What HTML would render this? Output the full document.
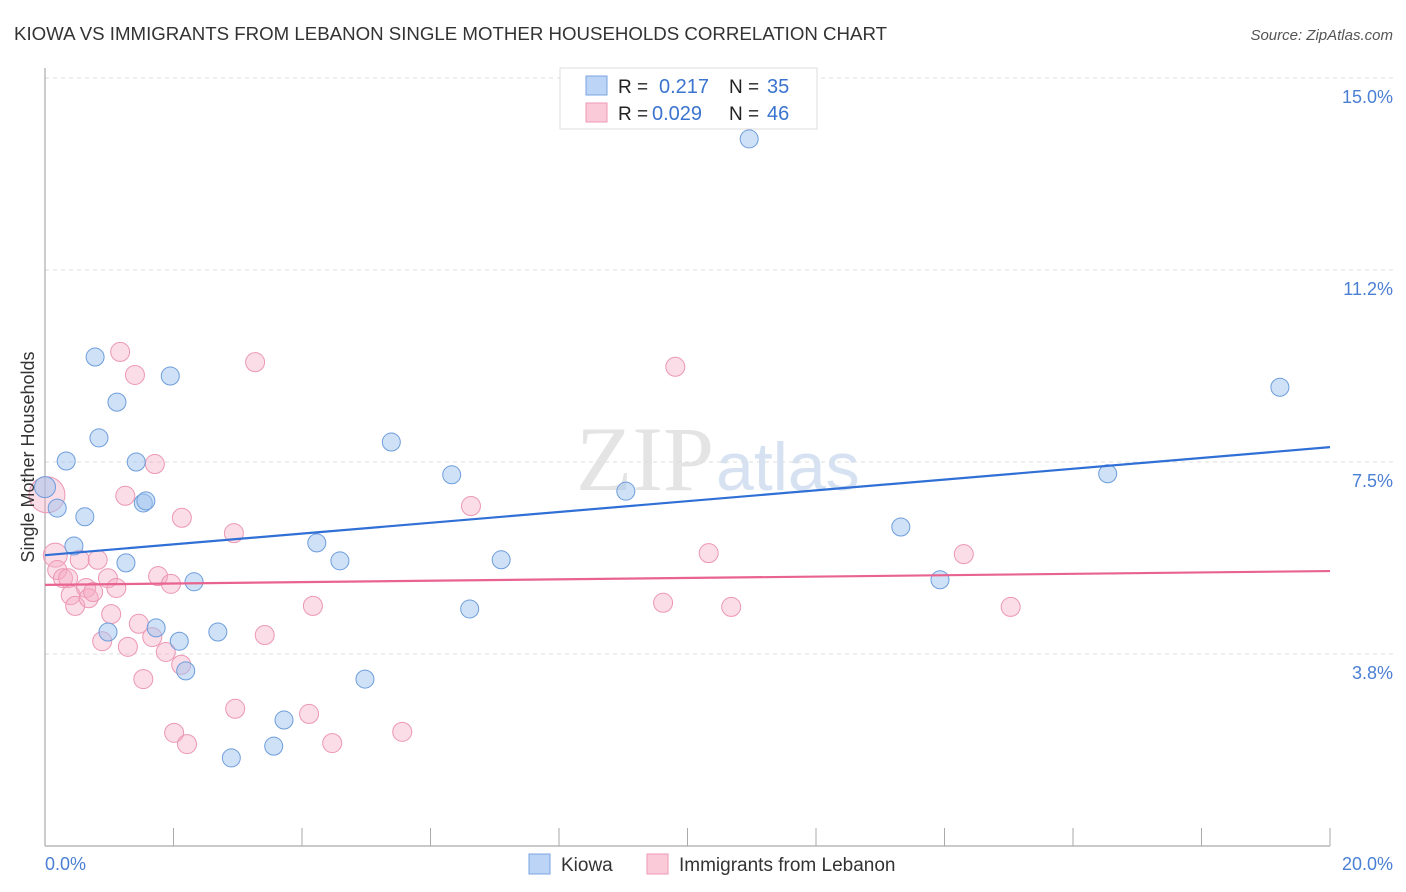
<!DOCTYPE html>
<html><head><meta charset="utf-8"><style>
body{margin:0;background:#fff;font-family:"Liberation Sans",sans-serif;}
svg{display:block}
</style></head><body>
<svg id="c" width="1406" height="892" xmlns="http://www.w3.org/2000/svg">
<text x="14" y="40" font-size="18.5" fill="#333" textLength="873" lengthAdjust="spacingAndGlyphs">KIOWA VS IMMIGRANTS FROM LEBANON SINGLE MOTHER HOUSEHOLDS CORRELATION CHART</text>
<text x="1393" y="40" font-size="15" fill="#555" font-style="italic" text-anchor="end">Source: ZipAtlas.com</text>
<text x="714" y="490" font-size="92" fill="#e4e4e4" text-anchor="end" font-family="Liberation Serif">ZIP</text>
<text x="716" y="490" font-size="68" fill="#d6e2f2">atlas</text>
<g id="grid"></g>
<line x1="45" y1="68" x2="45" y2="846" stroke="#aaa" stroke-width="1.2"/>
<line x1="45" y1="846" x2="1330" y2="846" stroke="#aaa" stroke-width="1.2"/>
<g id="xt"></g>
<g id="pts"></g>
<g id="trend"></g>
<text transform="translate(34,457) rotate(-90)" font-size="18" fill="#333" text-anchor="middle">Single Mother Households</text>
<text x="45" y="870" font-size="18" fill="#4a7fd4">0.0%</text>
<text x="1393" y="870" font-size="18" fill="#4a7fd4" text-anchor="end">20.0%</text>
<g>
<rect x="560" y="68" width="257" height="61" fill="#fff" stroke="#ddd"/>
<rect x="586" y="76" width="21" height="19" fill="#bcd4f5" stroke="#7aa5e0"/>
<rect x="586" y="103" width="21" height="19" fill="#fbcad9" stroke="#ef9ab5"/>
<text x="618" y="93" font-size="19" fill="#222">R = </text><text x="659" y="93" font-size="20" fill="#3a74cf">0.217</text>
<text x="729" y="93" font-size="19" fill="#222">N = </text><text x="767" y="93" font-size="20" fill="#3a74cf">35</text>
<text x="618" y="120" font-size="19" fill="#222">R = </text><text x="652" y="120" font-size="20" fill="#3a74cf">0.029</text>
<text x="729" y="120" font-size="19" fill="#222">N = </text><text x="767" y="120" font-size="20" fill="#3a74cf">46</text>
</g>
<g>
<rect x="529" y="854" width="21" height="20" fill="#bcd4f5" stroke="#7aa5e0"/>
<text x="561" y="871" font-size="19" fill="#333">Kiowa</text>
<rect x="647" y="854" width="21" height="20" fill="#fbcad9" stroke="#ef9ab5"/>
<text x="679" y="871" font-size="19" fill="#333">Immigrants from Lebanon</text>
</g>
</svg>
<script>
const yTicks=[3.8,7.5,11.2,15.0];
const yTickVals=[3.75,7.5,11.25,15.0];
const xTickVals=[2,4,6,8,10,12,14,16,18,20];
const kiowaX=[0.0,0.19,0.33,0.62,0.45,0.78,0.84,1.12,0.98,1.26,1.42,1.53,1.57,1.95,1.73,2.09,2.19,2.32,2.69,2.90,3.56,3.72,4.23,4.59,4.98,5.39,6.33,6.61,7.10,9.04,10.96,13.32,13.93,16.54,19.22];
const kiowaY=[7.01,6.60,7.52,6.43,5.86,9.55,7.97,8.67,4.18,5.53,7.50,6.70,6.74,9.18,4.26,4.00,3.42,5.16,4.18,1.72,1.95,2.46,5.92,5.57,3.26,7.89,7.25,4.63,5.59,6.93,13.81,6.23,5.20,7.27,8.96];
const lebX=[0.03,0.16,0.19,0.28,0.36,0.40,0.47,0.54,0.64,0.68,0.75,0.82,0.89,0.98,1.03,1.11,1.17,1.25,1.29,1.40,1.46,1.53,1.67,1.71,1.76,1.88,1.96,2.01,2.12,2.13,2.21,2.94,2.96,3.27,3.42,4.11,4.17,4.47,5.56,6.63,9.62,9.81,10.33,10.68,14.30,15.03];
const lebY=[6.86,5.68,5.39,5.23,5.23,4.90,4.69,5.59,5.04,4.84,4.96,5.59,4.00,5.23,4.53,5.04,9.65,6.84,3.89,9.20,4.34,3.26,4.08,7.46,5.27,3.79,5.12,2.21,3.54,6.41,1.99,6.11,2.68,9.45,4.12,2.58,4.69,2.01,2.23,6.64,4.75,9.36,5.72,4.67,5.70,4.67];
const kiowaTrendY=[5.68,7.79];
const lebTrendY=[5.10,5.37];
const trendX=[0,20];
const NS='http://www.w3.org/2000/svg';
const xs=v=>45+v*64.25, ys=v=>846-v*51.2;
function mk(t,a,p){const e=document.createElementNS(NS,t);for(const k in a)e.setAttribute(k,a[k]);p.appendChild(e);return e;}
const grid=document.getElementById('grid');
yTickVals.forEach((v,i)=>{
 const l=mk('line',{x1:45,x2:1393,y1:ys(v),y2:ys(v),stroke:'#ddd','stroke-dasharray':'4,4'},grid);
 
 
 const t=mk('text',{x:1393,y:ys(v)+25,'font-size':18,fill:'#4a7fd4','text-anchor':'end'},grid);
 t.textContent=yTicks[i].toFixed(1)+'%';
 
 
});
const xt=document.getElementById('xt');
xTickVals.forEach(v=>{
 const l=mk('line',{x1:xs(v),x2:xs(v),y1:828,y2:846,stroke:'#aaa'},xt);
 
 
});
const pts=document.getElementById('pts');
lebX.forEach((x,i)=>{
 const r=i===0?18:(i===1?12:9.5);
 const c=mk('circle',{cx:xs(x),cy:ys(lebY[i]),r:r,fill:'rgba(245,170,195,0.4)',stroke:'#ec97b3','stroke-width':1},pts);
 
 
});
kiowaX.forEach((x,i)=>{
 const r=i===0?10.5:9;
 const c=mk('circle',{cx:xs(x),cy:ys(kiowaY[i]),r:r,fill:'rgba(160,195,240,0.5)',stroke:'#6d9ddb','stroke-width':1},pts);
 
 
});
const tr=document.getElementById('trend');
const a=mk('line',{x1:xs(trendX[0]),x2:xs(trendX[1]),y1:ys(kiowaTrendY[0]),y2:ys(kiowaTrendY[1]),stroke:'#2f6fd6','stroke-width':2.2},tr);


const b=mk('line',{x1:xs(trendX[0]),x2:xs(trendX[1]),y1:ys(lebTrendY[0]),y2:ys(lebTrendY[1]),stroke:'#e9638f','stroke-width':2.2},tr);


</script>
</body></html>
